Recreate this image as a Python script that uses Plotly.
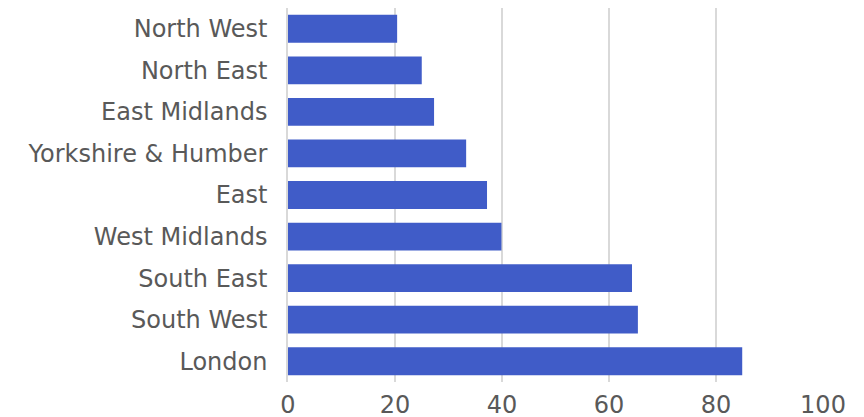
import plotly.graph_objects as go

regions = ["North West", "North East", "East Midlands", "Yorkshire & Humber", "East",
           "West Midlands", "South East", "South West", "London"]
values = [20.4, 25.0, 27.3, 33.3, 37.2, 39.9, 64.3, 65.4, 84.9]
x_ticks = [0, 20, 40, 60, 80, 100]

fig = go.Figure(go.Bar(
    y=regions, x=values, orientation="h",
    marker=dict(color="#405CC8", line=dict(width=0)),
))

font_family = "'DejaVu Sans', sans-serif"
# page body has an 8px default margin; figure sized/margined to compensate
fig.update_layout(
    width=856, height=409,
    margin=dict(l=280, r=41, t=0, b=35, pad=0),
    paper_bgcolor="white", plot_bgcolor="white",
    bargap=0.33, showlegend=False,
    font=dict(family=font_family, color="#595959"),
)
fig.update_xaxes(
    range=[0, 100], tickvals=x_ticks, showgrid=True, gridcolor="#D9D9D9", gridwidth=1.5,
    zeroline=False, showline=False, tickfont=dict(size=24, color="#595959"),
    ticks="outside", ticklen=1, tickcolor="rgba(0,0,0,0)", automargin=False,
)
fig.update_yaxes(
    autorange="reversed", showgrid=False, zeroline=False,
    showline=True, linecolor="#D9D9D9", linewidth=1.5,
    tickfont=dict(size=24, color="#595959"),
    ticks="outside", ticklen=14, tickcolor="rgba(0,0,0,0)", automargin=False,
)
fig.write_html("out.html")
